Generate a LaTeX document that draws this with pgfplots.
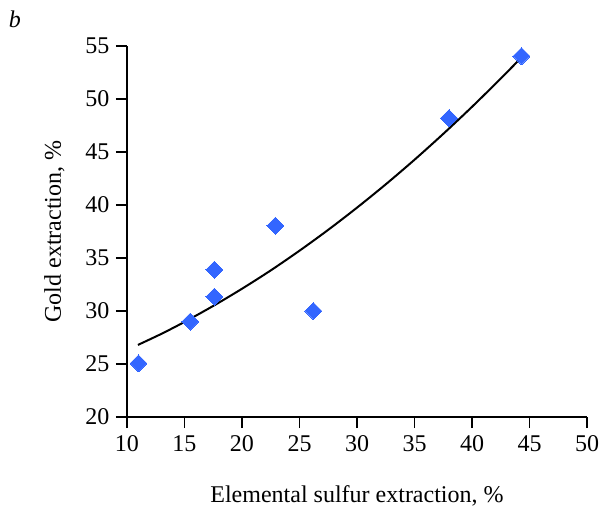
\documentclass[border=0pt]{standalone}
\usepackage{fontspec}
\setmainfont{Liberation Serif}
\usepackage{pgfplots}
\pgfplotsset{compat=1.18}
\definecolor{markblue}{RGB}{51,102,255}
\begin{document}
\begin{tikzpicture}[x=1pt,y=1pt]
\path[use as bounding box] (-127,-95) rectangle (481,417);
\begin{axis}[
  at={(0,0)}, anchor=south west,
  scale only axis, width=460pt, height=371pt,
  xmin=10, xmax=50, ymin=20, ymax=55,
  xtick={10,15,...,50}, ytick={20,25,...,55},
  axis x line*=bottom, axis y line*=left,
  axis line style={line width=1.6pt},
  tick style={line width=1.6pt, black},
  tick align=outside, major tick length=11pt,
  every tick label/.append style={font=\fontsize{24}{28}\selectfont},
  xticklabel style={yshift=-4pt},
  yticklabel style={xshift=-3pt},
  /pgf/number format/assume math mode=true,
  xlabel={Elemental sulfur extraction, \%},
  ylabel={Gold extraction, \%},
  label style={font=\fontsize{24}{28}\selectfont},
  xlabel style={yshift=-27pt},
  ylabel style={yshift=14pt},
  clip=false,
]
\addplot[black, line width=2pt, smooth] coordinates {
(10.95,26.80) (13,27.85) (15,28.97) (17.5,30.48) (20,32.10) (22.5,33.83)
(25,35.69) (27.5,37.66) (30,39.75) (32.5,41.95) (35,44.27) (37.5,46.71)
(40,49.26) (42.5,51.93) (44.2,53.81)
};
\addplot[only marks, color=markblue, mark=square*, mark size=6pt,
  mark options={rotate=45, fill=markblue, draw=markblue, line width=0pt}] coordinates {
(11.0,25.05) (15.5,29.0) (17.6,31.35) (17.6,33.9) (22.9,38.05) (26.2,30.0) (38.0,48.2) (44.3,54.05)
};
\end{axis}
\node[font=\fontsize{24}{28}\selectfont\itshape] at (-112,398) {b};
\end{tikzpicture}
\end{document}
